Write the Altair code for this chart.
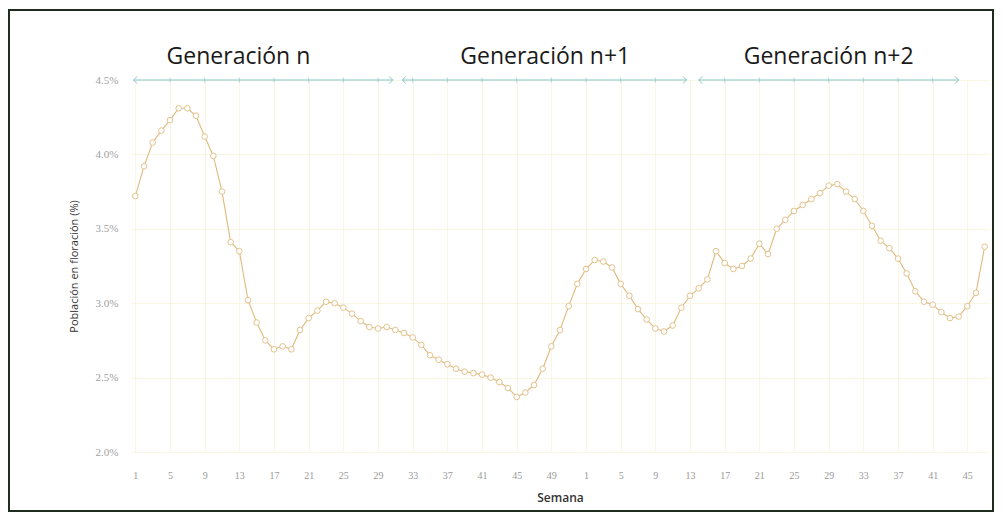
import json
import altair as alt
import pandas as pd

# ---------------- data ----------------
semana_anio1 = list(range(1, 53))
semana_anio2 = list(range(1, 48))
poblacion_anio1 = [
    3.72, 3.92, 4.08, 4.16, 4.23, 4.31, 4.31, 4.26, 4.12, 3.99,
    3.75, 3.41, 3.35, 3.02, 2.87, 2.75, 2.69, 2.71, 2.69, 2.82,
    2.90, 2.95, 3.01, 3.00, 2.97, 2.93, 2.88, 2.84, 2.83, 2.84,
    2.82, 2.80, 2.77, 2.72, 2.65, 2.62, 2.59, 2.56, 2.54, 2.53,
    2.52, 2.50, 2.47, 2.43, 2.37, 2.40, 2.45, 2.56, 2.71, 2.82,
    2.98, 3.13,
]
poblacion_anio2 = [
    3.23, 3.29, 3.28, 3.24, 3.13, 3.05, 2.96, 2.89, 2.83, 2.81,
    2.85, 2.97, 3.05, 3.10, 3.16, 3.35, 3.27, 3.23, 3.25, 3.30,
    3.40, 3.33, 3.50, 3.56, 3.62, 3.66, 3.70, 3.74, 3.79, 3.80,
    3.75, 3.70, 3.62, 3.52, 3.42, 3.37, 3.30, 3.20, 3.08, 3.01,
    2.99, 2.94, 2.90, 2.91, 2.98, 3.07, 3.38,
]
y_ticks = [2.0, 2.5, 3.0, 3.5, 4.0, 4.5]

gen_nombres = ["Generación n", "Generación n+1", "Generación n+2"]
gen_inicio = [-0.2, 30.8, 65.0]
gen_fin = [29.7, 63.6, 95.0]
gen_texto_x = [11.9, 47.3, 80.0]
gen_nivel = 4.5
gen_texto_nivel = 4.655

# ---------------- tables ----------------
semanas = semana_anio1 + semana_anio2
valores = poblacion_anio1 + poblacion_anio2
idx = list(range(len(valores)))
df = pd.DataFrame({"idx": idx, "semana": semanas, "valor": valores})

tick_idx = [i for i in idx if (semanas[i] - 1) % 4 == 0]
label_expr = json.dumps([str(s) for s in semanas]) + "[datum.value]"

gen_df = pd.DataFrame({
    "nombre": gen_nombres, "inicio": gen_inicio, "fin": gen_fin,
    "tx": gen_texto_x, "nivel": [gen_nivel] * 3, "tnivel": [gen_texto_nivel] * 3,
})
gen_ticks = pd.DataFrame({
    "t": [t for t in tick_idx if any(s + 1 < t < e - 1 for s, e in zip(gen_inicio, gen_fin))],
})
gen_ticks["nivel"] = gen_nivel

W, H = 858, 372
xscale = alt.Scale(domain=[-0.5, len(valores) - 0.5], nice=False, zero=False)
yscale = alt.Scale(domain=[2.0, 4.5], nice=False, zero=False)

TEAL = "#86c8c8"
GRID = "#f9f6e4"

base = alt.Chart(df)

line = base.mark_line(color="#e0b97c", strokeWidth=1.1).encode(
    x=alt.X("idx:Q", scale=xscale, title="Semana",
            axis=alt.Axis(values=tick_idx, tickCount=200, labelExpr=label_expr, grid=True,
                          gridColor=GRID, gridWidth=1, domain=False, ticks=False,
                          labelOverlap=False, labelBound=False, labelFlush=False,
                          labelPadding=18, titlePadding=12, labelFont="Liberation Serif",
                          labelFontSize=10, labelColor="#9a9a9a", titleFont="Open Sans",
                          titleFontSize=12, titleFontWeight=600, titleColor="#333333")),
    y=alt.Y("valor:Q", scale=yscale, title="Población en floración (%)",
            axis=alt.Axis(values=y_ticks, tickCount=20,
                          labelExpr="format(datum.value, '.1f') + '%'",
                          grid=True, gridColor=GRID, gridWidth=1, domain=False, ticks=False,
                          labelOverlap=False, labelPadding=13, titlePadding=16,
                          labelFont="Liberation Serif",
                          labelFontSize=11, labelColor="#a0a0a0", titleFont="Open Sans",
                          titleFontSize=11, titleFontWeight=500, titleColor="#333333")),
)

points = base.mark_point(shape="circle", filled=True, fill="white", stroke="#e4c38d",
                         strokeWidth=1, size=32, opacity=1).encode(
    x=alt.X("idx:Q", scale=xscale),
    y=alt.Y("valor:Q", scale=yscale),
)

gen = alt.Chart(gen_df)
arrows = gen.mark_rule(color=TEAL, strokeWidth=1).encode(
    x=alt.X("inicio:Q", scale=xscale), x2="fin:Q",
    y=alt.Y("nivel:Q", scale=yscale),
)
head_l = gen.mark_point(shape="M0.9,-0.9L0,0L0.9,0.9", filled=False, stroke=TEAL,
                        strokeWidth=1, size=64, opacity=1).encode(
    x=alt.X("inicio:Q", scale=xscale), y=alt.Y("nivel:Q", scale=yscale),
)
head_r = gen.mark_point(shape="M-0.9,-0.9L0,0L-0.9,0.9", filled=False, stroke=TEAL,
                        strokeWidth=1, size=64, opacity=1).encode(
    x=alt.X("fin:Q", scale=xscale), y=alt.Y("nivel:Q", scale=yscale),
)
ticks = alt.Chart(gen_ticks).mark_tick(color=TEAL, thickness=1, size=5, orient="vertical").encode(
    x=alt.X("t:Q", scale=xscale), y=alt.Y("nivel:Q", scale=yscale),
)
labels = gen.mark_text(font="Open Sans", fontSize=23, color="#1a1a1a",
                       align="center", baseline="middle").encode(
    x=alt.X("tx:Q", scale=xscale), y=alt.Y("tnivel:Q", scale=yscale), text="nombre:N",
)

frame = alt.Chart(alt.Data(values=[{"k": 1}])).mark_rect(
    fill="transparent", stroke="#1f2d20", strokeWidth=2).encode(
    x=alt.value(-122), x2=alt.value(W + 4), y=alt.value(-70), y2=alt.value(H + 59),
)

chart = alt.layer(frame, line, points, arrows, ticks, head_l, head_r, labels).properties(
    width=W, height=H,
    autosize=alt.AutoSizeParams(type="none"),
    padding={"left": 123, "top": 72, "right": 6, "bottom": 62},
    background="white",
).configure_view(strokeWidth=0)

chart.save("out.html", embed_options={"renderer": "svg", "actions": False})
